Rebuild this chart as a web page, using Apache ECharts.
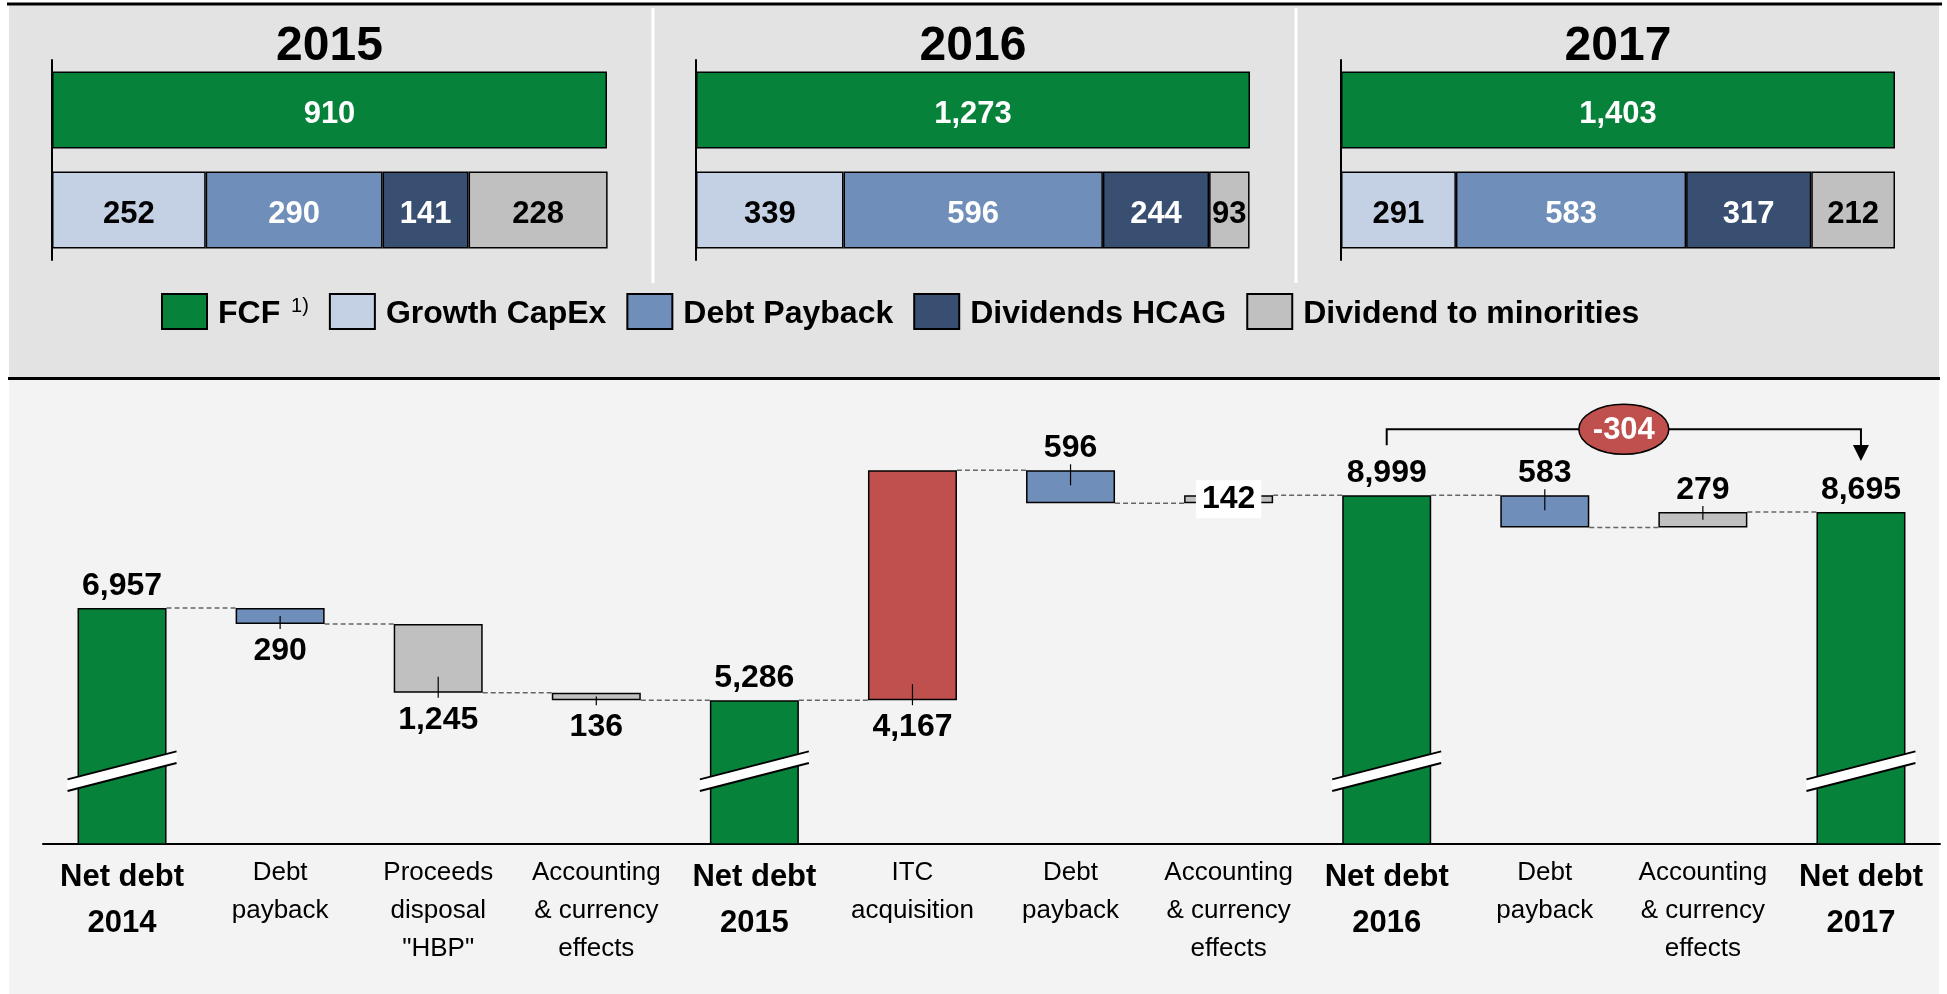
<!DOCTYPE html>
<html>
<head>
<meta charset="utf-8">
<title>Net debt development</title>
<script src="https://cdn.jsdelivr.net/npm/echarts@6/dist/echarts.min.js"></script>
<style>
  html, body { margin: 0; padding: 0; background: #fff; }
  #chart { width: 1947px; height: 994px; }
</style>
</head>
<body>
<div id="chart"></div>
<script>
// ---- top: use of free cash flow per year ----
const years = ['2015', '2016', '2017'];
const fcf = [910, 1273, 1403];
const growthCapex = [252, 339, 291];
const debtPayback = [290, 596, 583];
const dividendsHcag = [141, 244, 317];
const dividendMinorities = [228, 93, 212];

// ---- bottom: net debt bridge ----
const bridgeLabels = [
  'Net debt\n2014', 'Debt\npayback', 'Proceeds\ndisposal\n"HBP"', 'Accounting\n& currency\neffects',
  'Net debt\n2015', 'ITC\nacquisition', 'Debt\npayback', 'Accounting\n& currency\neffects',
  'Net debt\n2016', 'Debt\npayback', 'Accounting\n& currency\neffects', 'Net debt\n2017'
];
const bridgeValues = [6957, -290, -1245, -136, 5286, 4167, -596, 142, 8999, -583, 279, 8695];
const bridgeKinds = ['total', 'debt', 'other', 'other', 'total', 'itc', 'debt', 'other', 'total', 'debt', 'other', 'total'];

// where each value label sits (as in the slide)
const labelSide = ['top', 'bottom', 'bottom', 'bottom', 'top', 'bottom', 'top', 'inside', 'top', 'top', 'top', 'top'];

const FONT = '"Liberation Sans", Arial, Helvetica, sans-serif';
const colors = {
  fcf: '#06823A',
  growth: '#C4D0E3',
  debt: '#6F8EBA',
  dividends: '#394F72',
  minorities: '#C0C0C0',
  itc: '#C0504D'
};
const kindColor = { total: colors.fcf, debt: colors.debt, other: colors.minorities, itc: colors.itc };
const fmt = v => Math.abs(v).toLocaleString('en-US');

const BAR_W = 89;      // waterfall bar width (px)
const AXIS_MIN = 2680; // value axis is broken, bars start from here
const BREAK_AT = 4000; // value where the break mark is drawn

// running levels of the bridge
const bases = [], visible = [], levelAfter = [], ticks = [];
let level = 0;
bridgeValues.forEach((v, i) => {
  if (bridgeKinds[i] === 'total') {
    bases.push(0);
    visible.push(v);
    level = v;
  } else {
    const start = level;
    const end = level + v;
    bases.push(Math.min(start, end));
    visible.push(Math.abs(v));
    level = end;
    if (labelSide[i] !== 'inside') {
      const hi = Math.max(start, end), lo = Math.min(start, end);
      ticks.push(labelSide[i] === 'top' ? [i, hi, lo] : [i, lo, hi]);
    }
  }
  levelAfter.push(level);
});
const connectors = levelAfter.slice(0, -1).map((l, i) => [i, l]);
const breaks = bridgeKinds.map((k, i) => k === 'total' ? [i, BREAK_AT] : null).filter(Boolean);
const bracket = [[8, bridgeValues[8], 11, bridgeValues[11], bridgeValues[11] - bridgeValues[8]]];

const chart = echarts.init(document.getElementById('chart'));

// ---- top grids ----
const topGrids = [
  { left: 52, width: 555, top: 60, height: 200 },
  { left: 696, width: 554, top: 60, height: 200 },
  { left: 1341, width: 554, top: 60, height: 200 }
];
const useSeries = [
  { name: 'Growth CapEx', data: growthCapex, color: colors.growth, text: '#000' },
  { name: 'Debt Payback', data: debtPayback, color: colors.debt, text: '#fff' },
  { name: 'Dividends HCAG', data: dividendsHcag, color: colors.dividends, text: '#fff' },
  { name: 'Dividend to minorities', data: dividendMinorities, color: colors.minorities, text: '#000' }
];

const series = [];
years.forEach((y, i) => {
  const common = {
    type: 'bar',
    xAxisIndex: i,
    yAxisIndex: i,
    stack: 'year' + i,
    barWidth: 77,
    silent: true
  };
  const barLabel = color => ({
    show: true, position: 'inside', offset: [0, 4], color: color,
    fontFamily: FONT, fontWeight: 'bold', fontSize: 31, formatter: p => fmt(p.value)
  });
  series.push(Object.assign({}, common, {
    name: 'FCF',
    data: [fcf[i], '-'],
    itemStyle: { color: colors.fcf, borderColor: '#000', borderWidth: 1.5 },
    label: barLabel('#fff')
  }));
  useSeries.forEach(s => {
    series.push(Object.assign({}, common, {
      name: s.name,
      data: ['-', s.data[i]],
      itemStyle: { color: s.color, borderColor: '#000', borderWidth: 1.5 },
      label: barLabel(s.text)
    }));
  });
});

// ---- bottom waterfall ----
const W = 3; // grid / axis index of the bridge
series.push({
  type: 'bar',
  xAxisIndex: W,
  yAxisIndex: W,
  stack: 'bridge',
  barWidth: BAR_W,
  silent: true,
  itemStyle: { color: 'transparent' },
  data: bases
});
series.push({
  type: 'bar',
  xAxisIndex: W,
  yAxisIndex: W,
  stack: 'bridge',
  barWidth: BAR_W,
  silent: true,
  data: visible.map((v, i) => ({
    value: v,
    itemStyle: { color: kindColor[bridgeKinds[i]], borderColor: '#000', borderWidth: 1.5 },
    label: labelSide[i] === 'inside'
      ? { show: true, position: 'inside', backgroundColor: '#fff', padding: [4, 6, 2, 6] }
      : { show: true, position: labelSide[i], distance: labelSide[i] === 'top' ? 6 : 11 }
  })),
  label: {
    color: '#000',
    fontFamily: FONT,
    fontWeight: 'bold',
    fontSize: 32,
    formatter: p => fmt(bridgeValues[p.dataIndex])
  },
  z: 3
});

// dashed connectors between bars
series.push({
  type: 'custom',
  xAxisIndex: W,
  yAxisIndex: W,
  silent: true,
  data: connectors,
  renderItem: (params, api) => {
    const p = api.coord([api.value(0), api.value(1)]);
    const cw = api.size([1, 0])[0];
    return {
      type: 'line',
      shape: { x1: p[0] + BAR_W / 2, y1: p[1], x2: p[0] + cw - BAR_W / 2, y2: p[1] },
      style: { stroke: '#666666', lineWidth: 1.5, lineDash: [5, 3] }
    };
  },
  z: 1
});

// small leader ticks on the change bars
series.push({
  type: 'custom',
  xAxisIndex: W,
  yAxisIndex: W,
  silent: true,
  data: ticks,
  renderItem: (params, api) => {
    const x = api.coord([api.value(0), api.value(1)])[0];
    const yEdge = api.coord([api.value(0), api.value(1)])[1];
    const yOther = api.coord([api.value(0), api.value(2)])[1];
    const mid = (yEdge + yOther) / 2;
    let y1, y2;
    if (yEdge > yOther) {
      y1 = Math.max(yEdge - 16, mid);
      y2 = yEdge + 5;
    } else {
      y1 = yEdge - 6;
      y2 = Math.min(yEdge + 15, mid);
    }
    return {
      type: 'line',
      shape: { x1: x, y1: y1, x2: x, y2: y2 },
      style: { stroke: '#000', lineWidth: 1.2 }
    };
  },
  z: 4
});

// axis break marks on the net debt bars
series.push({
  type: 'custom',
  xAxisIndex: W,
  yAxisIndex: W,
  silent: true,
  data: breaks,
  renderItem: (params, api) => {
    const c = api.coord([api.value(0), api.value(1)]);
    const hw = BAR_W / 2 + 10;
    const rise = 14, th = 5.8;
    const l = c[0] - hw, r = c[0] + hw;
    return {
      type: 'group',
      children: [
        {
          type: 'polygon',
          shape: { points: [[l, c[1] + rise - th], [r, c[1] - rise - th], [r, c[1] - rise + th], [l, c[1] + rise + th]] },
          style: { fill: '#fff' }
        },
        {
          type: 'line',
          shape: { x1: l, y1: c[1] + rise - th, x2: r, y2: c[1] - rise - th },
          style: { stroke: '#000', lineWidth: 2 }
        },
        {
          type: 'line',
          shape: { x1: l, y1: c[1] + rise + th, x2: r, y2: c[1] - rise + th },
          style: { stroke: '#000', lineWidth: 2 }
        }
      ]
    };
  },
  z: 5
});

// -304 bracket from net debt 2016 to net debt 2017
series.push({
  type: 'custom',
  xAxisIndex: W,
  yAxisIndex: W,
  silent: true,
  data: bracket,
  renderItem: (params, api) => {
    const a = api.coord([api.value(0), api.value(1)]);
    const b = api.coord([api.value(2), api.value(3)]);
    const legA = a[1] - 50;
    const tip = b[1] - 51;
    const yb = Math.min(legA, tip - 15) - 16;
    const mx = (a[0] + b[0]) / 2;
    return {
      type: 'group',
      children: [
        {
          type: 'polyline',
          shape: { points: [[a[0], legA], [a[0], yb], [b[0], yb], [b[0], tip - 15]] },
          style: { stroke: '#000', lineWidth: 2, fill: null }
        },
        {
          type: 'polygon',
          shape: { points: [[b[0] - 8, tip - 16], [b[0] + 8, tip - 16], [b[0], tip]] },
          style: { fill: '#000' }
        },
        {
          type: 'ellipse',
          shape: { cx: mx, cy: yb, rx: 45, ry: 25 },
          style: { fill: colors.itc, stroke: '#000', lineWidth: 1.5 }
        },
        {
          type: 'text',
          x: mx,
          y: yb + 1,
          style: {
            text: String(api.value(4)),
            align: 'center',
            verticalAlign: 'middle',
            fill: '#fff',
            font: 'bold 31px ' + FONT
          }
        }
      ]
    };
  },
  z: 6
});

chart.setOption({
  animation: false,
  backgroundColor: '#fff',
  textStyle: { fontFamily: FONT },
  title: years.map((y, i) => ({
    text: y,
    left: topGrids[i].left + topGrids[i].width / 2,
    top: 23,
    textAlign: 'center',
    padding: 0,
    textStyle: { fontFamily: FONT, fontWeight: 'bold', fontSize: 48, color: '#000' }
  })),
  legend: {
    data: ['FCF', 'Growth CapEx', 'Debt Payback', 'Dividends HCAG', 'Dividend to minorities'],
    left: 161,
    top: 293,
    padding: 0,
    itemWidth: 45,
    itemHeight: 35,
    itemGap: 20,
    icon: 'rect',
    selectedMode: false,
    formatter: n => n === 'FCF' ? '{t|FCF} {sup|1)}' : '{t|' + n + '}',
    textStyle: {
      color: '#000',
      fontFamily: FONT,
      fontWeight: 'bold',
      fontSize: 32,
      rich: {
        t: { fontFamily: FONT, fontWeight: 'bold', fontSize: 32, color: '#000', padding: [5, 0, 0, 6] },
        sup: { fontFamily: FONT, fontWeight: 'normal', fontSize: 20, color: '#000', padding: [0, 0, 10, 2] }
      }
    }
  },
  grid: topGrids.concat([{ left: 43, right: 7, top: 407, bottom: 150 }]).map(g => Object.assign({ outerBoundsMode: 'none' }, g)),
  xAxis: years.map((y, i) => ({
    type: 'value', gridIndex: i, min: 0, max: fcf[i], show: false
  })).concat([{
    type: 'category',
    gridIndex: W,
    data: bridgeLabels,
    axisLine: { lineStyle: { color: '#000', width: 2 } },
    axisTick: { show: false },
    axisLabel: {
      interval: 0,
      margin: 10,
      formatter: (v, idx) => {
        const tag = bridgeKinds[idx] === 'total' ? 'b' : 'r';
        return v.split('\n').map(line => '{' + tag + '|' + line + '}').join('\n');
      },
      rich: {
        b: { fontFamily: FONT, fontWeight: 'bold', fontSize: 31, lineHeight: 46, color: '#000' },
        r: { fontFamily: FONT, fontSize: 26, lineHeight: 38, color: '#000' }
      }
    }
  }]),
  yAxis: years.map((y, i) => ({
    type: 'category',
    gridIndex: i,
    data: ['FCF', 'Uses'],
    inverse: true,
    axisLine: { lineStyle: { color: '#000', width: 2 } },
    axisTick: { show: false },
    axisLabel: { show: false }
  })).concat([{
    type: 'value',
    gridIndex: W,
    min: AXIS_MIN,
    max: 10600,
    show: false
  }]),
  graphic: {
    elements: [
      { type: 'rect', z: -100, shape: { x: 9, y: 4, width: 1930, height: 375 }, style: { fill: '#E3E3E3' } },
      { type: 'rect', z: -100, shape: { x: 9, y: 379, width: 1930, height: 615 }, style: { fill: '#F3F3F3' } },
      { type: 'line', z: -90, shape: { x1: 7, y1: 4, x2: 1942, y2: 4 }, style: { stroke: '#000', lineWidth: 3 } },
      { type: 'line', z: -90, shape: { x1: 8, y1: 378.5, x2: 1940, y2: 378.5 }, style: { stroke: '#000', lineWidth: 3 } },
      { type: 'line', z: -90, shape: { x1: 653, y1: 8, x2: 653, y2: 283 }, style: { stroke: '#fff', lineWidth: 3 } },
      { type: 'line', z: -90, shape: { x1: 1296, y1: 8, x2: 1296, y2: 283 }, style: { stroke: '#fff', lineWidth: 3 } }
    ]
  },
  series: series
});
</script>
</body>
</html>
